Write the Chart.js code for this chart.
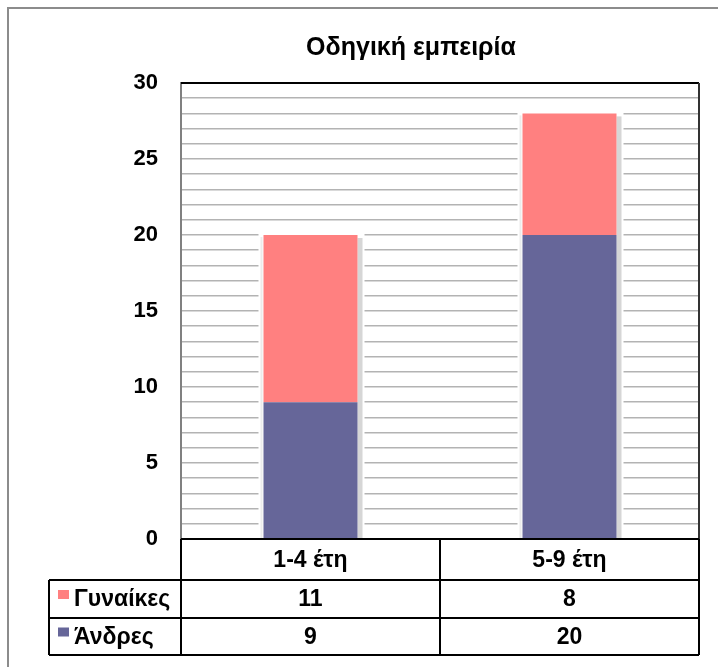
<!DOCTYPE html>
<html>
<head>
<meta charset="utf-8">
<script src="https://cdn.jsdelivr.net/npm/chart.js@4.4.0/dist/chart.umd.min.js"></script>
<style>
  html, body { margin: 0; padding: 0; background: #fff; }
  #wrap { position: relative; width: 718px; height: 667px; }
</style>
</head>
<body>
<div id="wrap"><canvas id="chart" width="718" height="667"></canvas></div>
<script>
const categories = ['1-4 έτη', '5-9 έτη'];
const seriesNames = ['Άνδρες', 'Γυναίκες'];
const men = [9, 20];
const women = [11, 8];
const yMax = 30;
const yLabelStep = 5;

const FONT = "'Liberation Sans', Arial, sans-serif";
const colMen = '#666699';
const colWomen = '#FF8080';

// frame, title and bar shadows
const decor = {
  id: 'decor',
  beforeDraw(chart) {
    const ctx = chart.ctx;
    ctx.save();
    ctx.fillStyle = '#fff';
    ctx.fillRect(0, 0, chart.width, chart.height);
    ctx.strokeStyle = '#8c8c8c';
    ctx.lineWidth = 2;
    ctx.beginPath();
    ctx.moveTo(8, chart.height);
    ctx.lineTo(8, 8);
    ctx.lineTo(chart.width, 8);
    ctx.stroke();
    ctx.fillStyle = '#000';
    ctx.font = 'bold 25px ' + FONT;
    ctx.textAlign = 'center';
    ctx.textBaseline = 'alphabetic';
    ctx.fillText('Οδηγική εμπειρία', 411, 55);
    ctx.restore();
  },
  beforeDatasetsDraw(chart) {
    const ctx = chart.ctx;
    const area = chart.chartArea;
    const low = chart.getDatasetMeta(0).data;
    const high = chart.getDatasetMeta(1).data;
    ctx.save();
    low.forEach((el, i) => {
      const w = el.width;
      const left = el.x - w / 2;
      const top = high[i].y;
      ctx.fillStyle = '#fff';
      ctx.fillRect(left - 5, top - 1, w + 12, area.bottom - top);
      ctx.fillStyle = '#ececec';
      ctx.fillRect(left - 3, top + 2, 2, area.bottom - top - 2);
      ctx.fillStyle = '#d6d6d6';
      ctx.fillRect(left + w, top + 3, 5, area.bottom - top - 3);
    });
    ctx.restore();
  }
};

// data table under the plot
const dataTable = {
  id: 'dataTable',
  afterDraw(chart) {
    const ctx = chart.ctx;
    const a = chart.chartArea;
    const xs = chart.scales.x;
    const mid = (xs.getPixelForValue(0) + xs.getPixelForValue(1)) / 2;
    const tableLeft = 49;
    const r1 = a.bottom + 41, r2 = a.bottom + 79, r3 = a.bottom + 116;
    ctx.save();
    // plot border top / right
    ctx.strokeStyle = '#000';
    ctx.lineWidth = 2;
    ctx.beginPath();
    ctx.moveTo(a.left, a.top);
    ctx.lineTo(a.right, a.top);
    ctx.stroke();
    ctx.strokeStyle = '#333';
    ctx.beginPath();
    ctx.moveTo(a.right, a.top);
    ctx.lineTo(a.right, a.bottom);
    ctx.stroke();
    // table grid
    ctx.strokeStyle = '#000';
    ctx.beginPath();
    ctx.moveTo(a.left, a.bottom); ctx.lineTo(a.right, a.bottom);
    ctx.moveTo(tableLeft, r1); ctx.lineTo(a.right, r1);
    ctx.moveTo(tableLeft, r2); ctx.lineTo(a.right, r2);
    ctx.moveTo(tableLeft, r3); ctx.lineTo(a.right, r3);
    ctx.moveTo(tableLeft, r1); ctx.lineTo(tableLeft, r3);
    ctx.moveTo(a.left, a.bottom); ctx.lineTo(a.left, r3);
    ctx.moveTo(mid, a.bottom); ctx.lineTo(mid, r3);
    ctx.moveTo(a.right, a.bottom); ctx.lineTo(a.right, r3);
    ctx.stroke();

    ctx.fillStyle = '#000';
    ctx.font = 'bold 23px ' + FONT;
    ctx.textAlign = 'center';
    ctx.textBaseline = 'middle';
    categories.forEach((c, i) => {
      const cx = xs.getPixelForValue(i);
      ctx.fillText(c, cx, (a.bottom + r1) / 2 + 1);
      ctx.fillText(String(women[i]), cx, (r1 + r2) / 2 + 1);
      ctx.fillText(String(men[i]), cx, (r2 + r3) / 2 + 1);
    });
    // legend keys
    const rows = [[seriesNames[1], colWomen, (r1 + r2) / 2], [seriesNames[0], colMen, (r2 + r3) / 2]];
    rows.forEach(([name, col, cy]) => {
      ctx.fillStyle = col;
      ctx.fillRect(58, cy - 9, 11, 9);
      ctx.fillStyle = '#000';
      ctx.textAlign = 'left';
      ctx.fillText(name, 74, cy + 1);
    });
    ctx.restore();
  }
};

const chart = new Chart(document.getElementById('chart'), {
  type: 'bar',
  data: {
    labels: categories,
    datasets: [
      { label: seriesNames[0], data: men, backgroundColor: colMen },
      { label: seriesNames[1], data: women, backgroundColor: colWomen }
    ]
  },
  options: {
    responsive: false,
    animation: false,
    layout: { padding: { left: 0, right: 19, top: 83, bottom: 128 } },
    datasets: { bar: { barPercentage: 0.363, categoryPercentage: 1 } },
    plugins: { legend: { display: false }, title: { display: false }, tooltip: { enabled: false } },
    scales: {
      x: { stacked: true, display: false },
      y: {
        stacked: true,
        min: 0,
        max: yMax,
        afterFit(scale) { scale.width = 181; },
        ticks: {
          stepSize: 1,
          maxTicksLimit: 40,
          autoSkip: false,
          padding: 23,
          color: '#000',
          font: { family: FONT, size: 22, weight: 'bold' },
          callback: v => (v % yLabelStep === 0 ? v : '')
        },
        grid: {
          drawTicks: false,
          lineWidth: 1.5,
          color: c => (c.tick && c.tick.value === yMax ? '#000' : '#b3b3b3')
        },
        border: { color: '#808080', width: 2 }
      }
    }
  },
  plugins: [decor, dataTable]
});
</script>
</body>
</html>
